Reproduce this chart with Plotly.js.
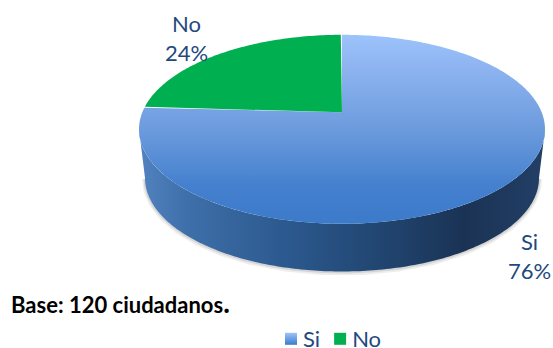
<!DOCTYPE html>
<html>
<head>
<meta charset="utf-8">
<script src="https://cdn.plot.ly/plotly-3.0.1.min.js"></script>
<style>html,body{margin:0;padding:0;background:#fff;overflow:hidden;height:348px}#chart{width:553px;height:360px}</style>
</head>
<body>
<div id="chart"></div>
<script>
// Survey answers, in percent
const categories = ["Si", "No"];
const percents = [76, 24];
const baseNote = "Base: 120 ciudadanos";

// Figure is slightly taller than the window so the legend keeps its full box
const FIG_W = 553, FIG_H = 360;

// Tilted disc: unit circle projected with a mild perspective
const RX = 199.7, RY = 95, HUB = 17, PERSP = 0.179;
const WALL_DROP = 49, WALL_RX = 197, WALL_RY = 94;

function rimPoint(deg) {
  const a = deg * Math.PI / 180, u = Math.sin(a), v = Math.cos(a);
  const w = 1 + PERSP * v;
  return [RX * u / w, (RY * v + HUB) / w];
}
function wedge(fromDeg, toDeg) {
  const xs = [0], ys = [HUB];
  for (let d = fromDeg; d <= toDeg + 1e-6; d += 1) {
    const p = rimPoint(d);
    xs.push(p[0]); ys.push(p[1]);
  }
  xs.push(0); ys.push(HUB);
  return {x: xs, y: ys};
}

// Front wall: lower half of the top rim, then back along the bottom rim
function bottomArc() {
  const xs = [], ys = [];
  for (let t = 180; t <= 360; t += 1) {
    const r = t * Math.PI / 180;
    xs.push(WALL_RX * Math.cos(r));
    ys.push(WALL_RY * Math.sin(r) - WALL_DROP);
  }
  return {x: xs, y: ys};
}
function wall() {
  const xs = [], ys = [];
  for (let t = 0; t <= 180; t += 1) {
    const r = t * Math.PI / 180;
    xs.push(203 * Math.cos(r));
    ys.push(-95 * Math.sin(r));
  }
  const b = bottomArc();
  return {x: xs.concat(b.x), y: ys.concat(b.y)};
}

const siSweep = percents[0] * 3.6;
const siWedge = wedge(0, siSweep);
const noWedge = wedge(siSweep, 360);
const rim = bottomArc();
const wallShape = wall();

const traces = [
  {x: rim.x, y: rim.y.map(v => v - 1), mode: "lines", line: {color: "rgba(0,0,0,0.07)", width: 6}, showlegend: false, hoverinfo: "skip"},
  {x: rim.x, y: rim.y.map(v => v - 0.5), mode: "lines", line: {color: "rgba(0,0,0,0.10)", width: 3}, showlegend: false, hoverinfo: "skip"},
  {
    x: wallShape.x, y: wallShape.y, mode: "none", fill: "toself", showlegend: false, hoverinfo: "skip",
    fillgradient: {type: "horizontal", start: -203, stop: 203, colorscale: [
      [0, "#5383c0"], [0.12, "#3f6fa9"], [0.35, "#2c5a90"], [0.6, "#214570"], [0.8, "#1a3355"], [1, "#233f66"]
    ]}
  },
  {
    x: siWedge.x, y: siWedge.y, mode: "none", fill: "toself", showlegend: false, hoverinfo: "skip",
    fillgradient: {type: "vertical", start: -95, stop: 95, colorscale: [
      [0, "#3c7aca"], [0.2, "#4480ce"], [0.5, "#6c9bdd"], [0.8, "#8bb2ef"], [1, "#9dc3fc"]
    ]}
  },
  {x: noWedge.x, y: noWedge.y, mode: "none", fill: "toself", fillcolor: "#00b050", showlegend: false, hoverinfo: "skip"},
  {
    x: [null], y: [null], name: categories[0], mode: "markers", hoverinfo: "skip",
    marker: {symbol: "square", size: 12, color: "#9dc3fc", gradient: {type: "vertical", color: "#3c7aca"}}
  },
  {
    x: [null], y: [null], name: categories[1], mode: "markers", hoverinfo: "skip",
    marker: {symbol: "square", size: 12, color: "#00b050"}
  }
];

const labelFont = {family: "Lato, sans-serif", size: 22, color: "#1f497d"};
const layout = {
  width: FIG_W, height: FIG_H,
  margin: {l: 0, r: 0, t: 0, b: 0},
  paper_bgcolor: "#fff", plot_bgcolor: "#fff",
  xaxis: {range: [-342, 211], visible: false, fixedrange: true},
  yaxis: {range: [130 - FIG_H, 130], visible: false, fixedrange: true},
  showlegend: true,
  legend: {
    orientation: "h", x: 271 / FIG_W, y: 1 - 341 / FIG_H, xanchor: "left", yanchor: "middle",
    font: labelFont, itemclick: false, itemdoubleclick: false, traceorder: "normal", bgcolor: "rgba(0,0,0,0)"
  },
  annotations: [
    {xref: "paper", yref: "paper", x: 186 / FIG_W, y: 1 - 38 / FIG_H, text: categories[1] + "<br>" + percents[1] + "%", showarrow: false, font: labelFont, align: "center", xanchor: "center", yanchor: "middle"},
    {xref: "paper", yref: "paper", x: 529 / FIG_W, y: 1 - 257 / FIG_H, text: categories[0] + "<br>" + percents[0] + "%", showarrow: false, font: labelFont, align: "center", xanchor: "center", yanchor: "middle"},
    {xref: "paper", yref: "paper", x: 9 / FIG_W, y: 1 - 304 / FIG_H, text: "<b>" + baseNote + "<span style=\"font-size:28px\">.</span></b>", showarrow: false, font: {family: "Lato, sans-serif", size: 22, color: "#000"}, xanchor: "left", yanchor: "middle"}
  ]
};

// Tighten the legend: labels sit closer to their swatches, entries closer together
const LABEL_PULL = 8, ENTRY_PULL = 13;
Plotly.newPlot("chart", traces, layout, {displayModeBar: false, staticPlot: true}).then(function () {
  document.querySelectorAll(".legend .traces").forEach(function (entry, i) {
    const label = entry.querySelector(".legendtext");
    label.setAttribute("x", parseFloat(label.getAttribute("x")) - LABEL_PULL);
    if (i > 0) {
      const m = /translate\(([-\d.]+),\s*([-\d.]+)\)/.exec(entry.getAttribute("transform"));
      entry.setAttribute("transform", "translate(" + (parseFloat(m[1]) - ENTRY_PULL * i) + "," + m[2] + ")");
    }
  });
});
</script>
</body>
</html>
